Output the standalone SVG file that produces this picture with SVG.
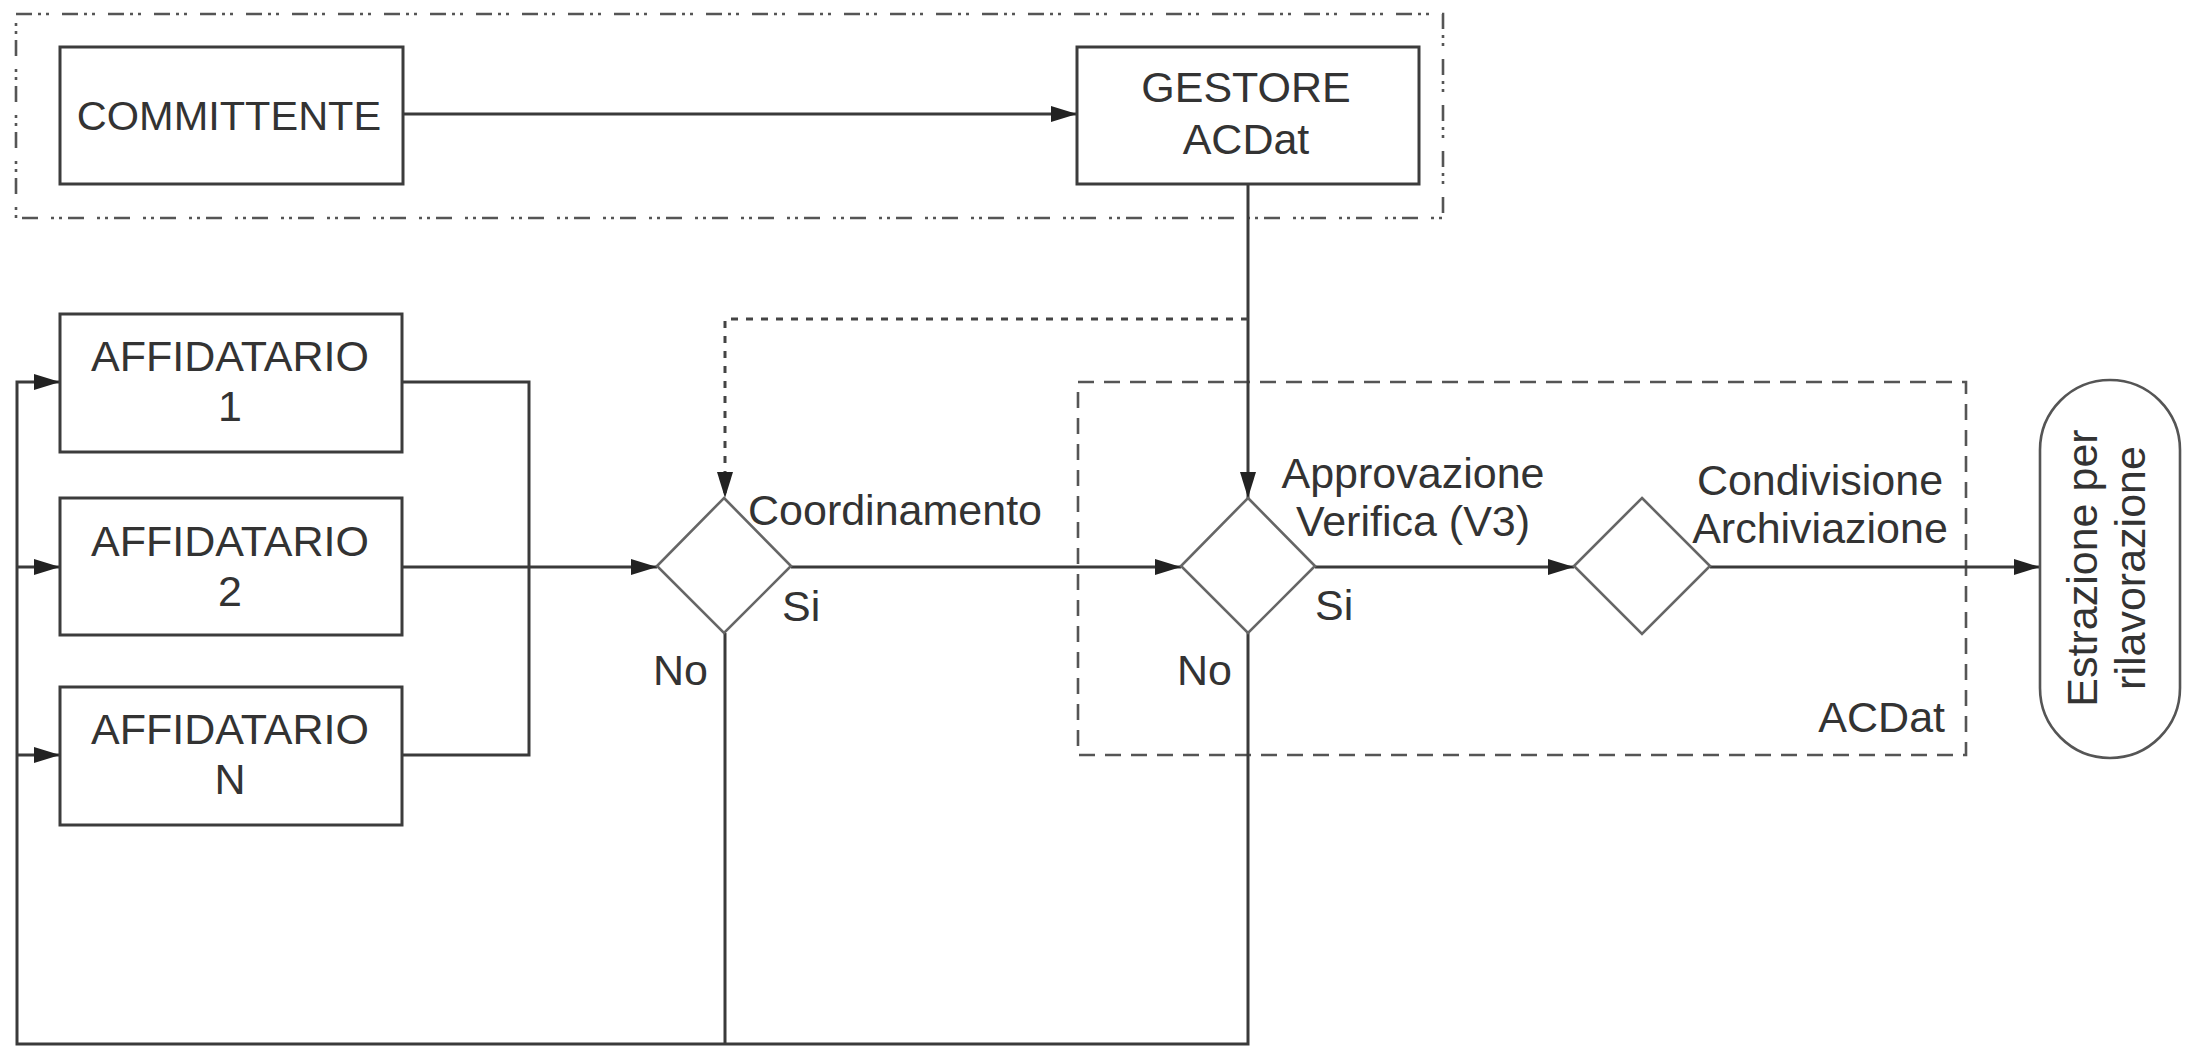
<svg xmlns="http://www.w3.org/2000/svg" width="2191" height="1048" viewBox="0 0 2191 1048">
<style>
.bg{fill:#ffffff}
.box{fill:#ffffff;stroke:#3c3c3c;stroke-width:3}
.dia{fill:#ffffff;stroke:#666666;stroke-width:2.6}
.ln{fill:none;stroke:#3a3a3a;stroke-width:3}
.dot{fill:none;stroke:#444444;stroke-width:3;stroke-dasharray:7 8}
.grp1{fill:none;stroke:#555555;stroke-width:2.6;stroke-dasharray:16 6 3 5 3 13}
.grp2{fill:none;stroke:#555555;stroke-width:2.6;stroke-dasharray:16 10}
text{font-family:"Liberation Sans",Arial,sans-serif;font-size:43px;fill:#333333}
.c{text-anchor:middle}
.e{text-anchor:end}
</style>
<defs>
<marker id="arr" markerUnits="userSpaceOnUse" markerWidth="26" markerHeight="17" refX="26" refY="8.5" orient="auto">
<path d="M0,0.5 L26,8.5 L0,16.5 z" fill="#222222"/>
</marker>
</defs>
<rect class="bg" x="0" y="0" width="2191" height="1048"/>

<g id="group-committente-gestore">
<rect class="grp1" x="16" y="14" width="1427" height="204"/>
</g>
<g id="group-acdat">
<rect class="grp2" x="1078" y="382" width="888" height="373"/>
<text class="e" x="1945" y="732">ACDat</text>
</g>

<g id="connectors">
<path class="ln" d="M403,114 L1077,114" marker-end="url(#arr)"/>
<path class="ln" d="M1248,184 L1248,498" marker-end="url(#arr)"/>
<path class="dot" d="M1248,319 L725,319 L725,498" marker-end="url(#arr)"/>
<path class="ln" d="M402,382 L529,382 L529,755 L402,755"/>
<path class="ln" d="M402,567 L657,567" marker-end="url(#arr)"/>
<path class="ln" d="M791,567 L1181,567" marker-end="url(#arr)"/>
<path class="ln" d="M1315,567 L1574,567" marker-end="url(#arr)"/>
<path class="ln" d="M1710,567 L2040,567" marker-end="url(#arr)"/>
<path class="ln" d="M725,633 L725,1044"/>
<path class="ln" d="M1248,633 L1248,1044 L17,1044 L17,382 L60,382" marker-end="url(#arr)"/>
<path class="ln" d="M17,567 L60,567" marker-end="url(#arr)"/>
<path class="ln" d="M17,755 L60,755" marker-end="url(#arr)"/>
<text x="748" y="525">Coordinamento</text>
<text x="782" y="621">Si</text>
<text x="653" y="685">No</text>
<text x="1177" y="685">No</text>
<text x="1315" y="620">Si</text>
</g>

<g id="committente">
<rect class="box" x="60" y="47" width="343" height="137"/>
<text class="c" x="229" y="130" style="font-size:41.5px">COMMITTENTE</text>
</g>
<g id="gestore">
<rect class="box" x="1077" y="47" width="342" height="137"/>
<text class="c" x="1246" y="102">GESTORE</text>
<text class="c" x="1246" y="154">ACDat</text>
</g>
<g id="affidatario-1">
<rect class="box" x="60" y="314" width="342" height="138"/>
<text class="c" x="230" y="371">AFFIDATARIO</text>
<text class="c" x="230" y="421">1</text>
</g>
<g id="affidatario-2">
<rect class="box" x="60" y="498" width="342" height="137"/>
<text class="c" x="230" y="556">AFFIDATARIO</text>
<text class="c" x="230" y="606">2</text>
</g>
<g id="affidatario-n">
<rect class="box" x="60" y="687" width="342" height="138"/>
<text class="c" x="230" y="744">AFFIDATARIO</text>
<text class="c" x="230" y="794">N</text>
</g>
<g id="coordinamento">
<polygon class="dia" points="724,498 791,566 724,633 657,566"/>
</g>
<g id="approvazione">
<polygon class="dia" points="1248,498 1315,566 1248,633 1181,566"/>
<text class="c" x="1413" y="488">Approvazione</text>
<text class="c" x="1413" y="536">Verifica (V3)</text>
</g>
<g id="condivisione">
<polygon class="dia" points="1642,498 1710,566 1642,634 1574,566"/>
<text class="c" x="1820" y="495">Condivisione</text>
<text class="c" x="1820" y="543">Archiviazione</text>
</g>
<g id="estrazione">
<rect class="box" x="2040" y="380" width="140" height="378" rx="70" ry="70" style="stroke:#555555;stroke-width:2.6"/>
<text class="c" transform="translate(2097,568) rotate(-90)" x="0" y="0">Estrazione per</text>
<text class="c" transform="translate(2145,568) rotate(-90)" x="0" y="0">rilavorazione</text>
</g>
</svg>
